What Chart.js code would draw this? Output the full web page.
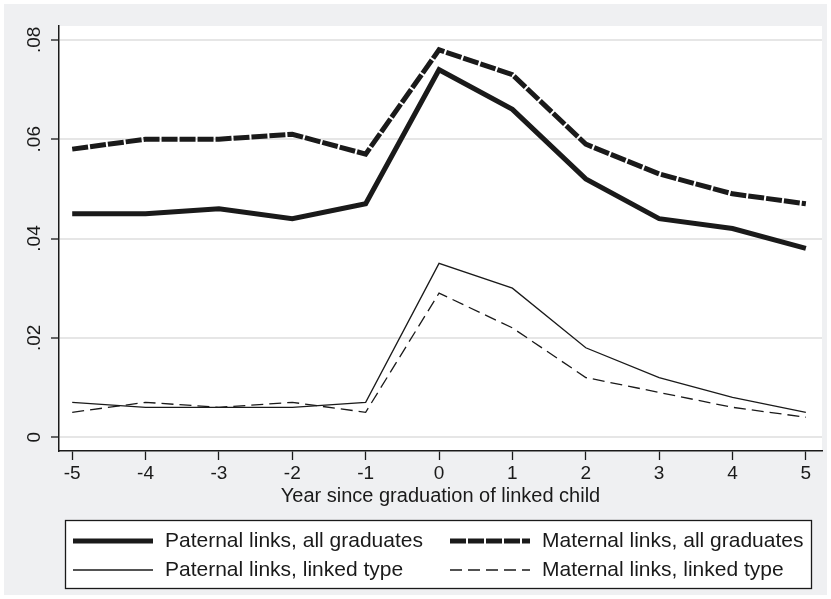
<!DOCTYPE html>
<html>
<head>
<meta charset="utf-8">
<script src="https://cdn.jsdelivr.net/npm/chart.js@4.4.1/dist/chart.umd.min.js"></script>
<style>
  html, body { margin: 0; padding: 0; background: #fff; }
  #wrap { width: 831px; height: 599px; }
</style>
</head>
<body>
<div id="wrap"><canvas id="chart" width="831" height="599"></canvas></div>
<script>
// data
const years = [-5, -4, -3, -2, -1, 0, 1, 2, 3, 4, 5];
const paternalAll    = [0.045, 0.045, 0.046, 0.044, 0.047, 0.074, 0.066, 0.052, 0.044, 0.042, 0.038];
const maternalAll    = [0.058, 0.060, 0.060, 0.061, 0.057, 0.078, 0.073, 0.059, 0.053, 0.049, 0.047];
const paternalLinked = [0.007, 0.006, 0.006, 0.006, 0.007, 0.035, 0.030, 0.018, 0.012, 0.008, 0.005];
const maternalLinked = [0.005, 0.007, 0.006, 0.007, 0.005, 0.029, 0.022, 0.012, 0.009, 0.006, 0.004];

const yTicks = [0, 0.02, 0.04, 0.06, 0.08];
const yTickLabels = ['0', '.02', '.04', '.06', '.08'];
const seriesLabels = [
  'Paternal links, all graduates',
  'Maternal links, all graduates',
  'Paternal links, linked type',
  'Maternal links, linked type'
];

const ink = '#1a1a1a';
const fontFamily = "'Liberation Sans', Arial, Helvetica, sans-serif";
Chart.defaults.font.family = fontFamily;
Chart.defaults.color = ink;

const pts = arr => arr.map((v, i) => ({ x: years[i], y: v }));

// gray page + white plot region
const background = {
  id: 'background',
  beforeDraw(chart) {
    const { ctx, chartArea: a } = chart;
    ctx.save();
    ctx.fillStyle = '#fff';
    ctx.fillRect(0, 0, chart.width, chart.height);
    ctx.fillStyle = '#eff0f2';
    ctx.fillRect(4, 4, 823, 591);
    ctx.fillStyle = '#fff';
    ctx.fillRect(a.left, a.top, a.right - a.left, a.bottom - a.top);
    ctx.restore();
  }
};

// boxed two-column legend like the stata one
const boxLegend = {
  id: 'boxLegend',
  afterDraw(chart) {
    const ctx = chart.ctx;
    ctx.save();
    ctx.fillStyle = '#fff';
    ctx.fillRect(65, 520, 747, 69);
    ctx.strokeStyle = ink;
    ctx.lineWidth = 1.3;
    ctx.strokeRect(65.5, 520.5, 746, 68);
    const cols = [73, 450];
    const rows = [541, 570];
    chart.data.datasets.forEach((ds, i) => {
      const x = cols[i % 2], y = rows[Math.floor(i / 2)];
      ctx.beginPath();
      ctx.setLineDash(ds.borderDash || []);
      ctx.lineWidth = ds.borderWidth;
      ctx.strokeStyle = ds.borderColor;
      ctx.moveTo(x, y);
      ctx.lineTo(x + 80, y);
      ctx.stroke();
      ctx.setLineDash([]);
      ctx.fillStyle = ink;
      ctx.font = '21px ' + fontFamily;
      ctx.textBaseline = 'middle';
      ctx.fillText(ds.label, x + 92, y);
    });
    ctx.restore();
  }
};

new Chart(document.getElementById('chart'), {
  type: 'line',
  data: {
    datasets: [
      { label: seriesLabels[0], data: pts(paternalAll), borderColor: ink, borderWidth: 5, borderDash: [] },
      { label: seriesLabels[1], data: pts(maternalAll), borderColor: ink, borderWidth: 5, borderDash: [16, 2] },
      { label: seriesLabels[2], data: pts(paternalLinked), borderColor: ink, borderWidth: 1.3, borderDash: [] },
      { label: seriesLabels[3], data: pts(maternalLinked), borderColor: ink, borderWidth: 1.3, borderDash: [12, 6] }
    ]
  },
  options: {
    responsive: false,
    animation: false,
    devicePixelRatio: 1,
    layout: { padding: { top: 26, right: 9, left: 0, bottom: 0 } },
    elements: {
      point: { radius: 0, hoverRadius: 0 },
      line: { tension: 0, fill: false, borderJoinStyle: 'miter', borderCapStyle: 'butt' }
    },
    plugins: {
      legend: { display: false },
      tooltip: { enabled: false }
    },
    scales: {
      x: {
        type: 'linear',
        min: -5.18,
        max: 5.22,
        afterBuildTicks: s => { s.ticks = years.map(v => ({ value: v })); },
        afterFit: s => { s.height = 148; },
        ticks: { font: { size: 19 }, color: ink, padding: 2, maxRotation: 0, autoSkip: false,
                 callback: v => String(v) },
        grid: { drawOnChartArea: false, drawTicks: true, tickLength: 9, tickColor: ink, tickWidth: 1.3 },
        border: { color: ink, width: 1.5 },
        title: { display: true, text: 'Year since graduation of linked child', font: { size: 20 }, color: ink,
                 padding: { top: 0, bottom: 91 } }
      },
      y: {
        min: -0.0028,
        max: 0.0828,
        afterBuildTicks: s => { s.ticks = yTicks.map(v => ({ value: v })); },
        afterFit: s => { s.width = 59; },
        ticks: { font: { size: 19 }, color: ink, padding: 3, minRotation: 90, maxRotation: 90,
                 crossAlign: 'center', callback: (v, i) => yTickLabels[i] },
        grid: { color: '#e6e6e6', lineWidth: 2, tickColor: ink, tickWidth: 1.3, tickLength: 8 },
        border: { color: ink, width: 1.5 }
      }
    }
  },
  plugins: [background, boxLegend]
});
</script>
</body>
</html>
